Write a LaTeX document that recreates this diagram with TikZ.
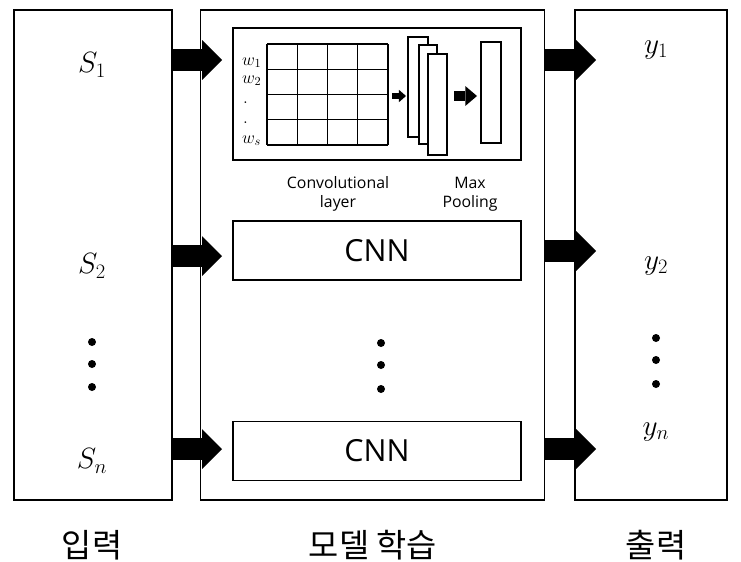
\RequirePackage{fix-cm}
\documentclass[tikz,border=0pt]{standalone}
\usepackage{fontspec}
\usetikzlibrary{arrows.meta,positioning}
\newfontfamily\krfont{Noto Sans CJK KR}
\newfontfamily\lblfont{Open Sans}

\begin{document}
\begin{tikzpicture}[x=0.03cm,y=-0.03cm,
    box/.style={draw,line width=1.4pt,inner sep=0pt,fill=white},
    thinbox/.style={draw,line width=1.2pt,inner sep=0pt,fill=white},
    bigarrow/.style={line width=18.8pt,-{Triangle[length=17pt,width=34pt,line width=0pt]}},
    midarrow/.style={line width=8.5pt,-{Triangle[length=10pt,width=17pt,line width=0pt]}},
    smallarrow/.style={line width=5pt,-{Triangle[length=6pt,width=10.5pt,line width=0pt]}},
    mathlab/.style={font=\fontsize{25}{29}\selectfont},
    wlab/.style={font=\fontsize{15}{17}\selectfont,anchor=base west,inner sep=0pt},
    cnnlab/.style={font=\lblfont\fontsize{26}{30}\selectfont},
    smalllab/.style={font=\lblfont\fontsize{13.5}{16}\selectfont,align=center},
    krlab/.style={font=\krfont\fontsize{28}{32}\selectfont}]
\useasboundingbox (0,0) rectangle (741,561);

% three main blocks
\node[box,minimum width=4.74cm,minimum height=14.7cm] (inbox) at (93,255) {};
\node[box,minimum width=10.32cm,minimum height=14.7cm] (modelbox) at (372.5,255) {};
\node[box,minimum width=4.56cm,minimum height=14.7cm] (outbox) at (651,255) {};

% inputs
\node[mathlab] (s1) at (92,65) {$S_1$};
\node[mathlab] (s2) at (92,266) {$S_2$};
\node[mathlab] (sn) at (92,461) {$S_n$};
\foreach \y in {342,364,387}
    \fill (92,\y) circle (4);

% outputs
\node[mathlab] (y1) at (656,50) {$y_1$};
\node[mathlab] (y2) at (656,266) {$y_2$};
\node[mathlab] (yn) at (656,432) {$y_n$};
\foreach \y in {338,360,384}
    \fill (656,\y) circle (4);

% model
\node[box,minimum width=8.64cm,minimum height=3.96cm] (convbox) at (377,94) {};
\node[box,cnnlab,minimum width=8.64cm,minimum height=1.77cm] (cnnA) at (377,250.5) {CNN};
\node[box,cnnlab,minimum width=8.64cm,minimum height=1.77cm] (cnnB) at (377,451) {CNN};
\foreach \y in {343,365,389}
    \fill (381,\y) circle (4);

% convolution grid
\foreach \i in {0,...,4} {
    \draw[line width=1.2pt] (267+30.25*\i,44) -- (267+30.25*\i,145);
    \draw[line width=1.2pt] (267,44+25.25*\i) -- (388,44+25.25*\i);
}
\node[wlab] (w1) at (242,65) {$w_1$};
\node[wlab] (w2) at (242,83) {$w_2$};
\node[wlab] (wd1) at (243,103) {$.$};
\node[wlab] (wd2) at (243,123) {$.$};
\node[wlab] (ws) at (242,143) {$w_s$};

% feature maps
\coordinate (sa) at (392,96);
\coordinate (sb) at (406,96);
\draw[smallarrow] (sa) -- (sb);
\node[thinbox,minimum width=0.6cm,minimum height=3cm] (fmA) at (418,87) {};
\node[thinbox,minimum width=0.54cm,minimum height=2.97cm] (fmB) at (428,94.5) {};
\node[thinbox,minimum width=0.57cm,minimum height=3.03cm] (fmC) at (437.5,104.5) {};
\coordinate (ma) at (454,96);
\coordinate (mb) at (477,96);
\draw[midarrow] (ma) -- (mb);
\node[thinbox,minimum width=0.6cm,minimum height=3.03cm] (pool) at (491,92.5) {};

\node[smalllab] (convlab) at (338,194) {Convolutional\\layer};
\node[smalllab] (poollab) at (470,194) {Max\\Pooling};

% arrows between blocks
\foreach \n/\y in {1/60,2/256,3/449} {
    \coordinate (tipL\n) at (222,\y);
    \draw[bigarrow] (inbox.east |- tipL\n) -- (tipL\n);
}
\foreach \n/\y in {1/60,2/251,3/449} {
    \coordinate (tipR\n) at (596,\y);
    \draw[bigarrow] (modelbox.east |- tipR\n) -- (tipR\n);
}

% captions
\node[krlab] (incap) at (92,545) {입력};
\node[krlab] (modelcap) at (373,545) {모델 학습};
\node[krlab] (outcap) at (656,545) {출력};
\end{tikzpicture}
\end{document}
